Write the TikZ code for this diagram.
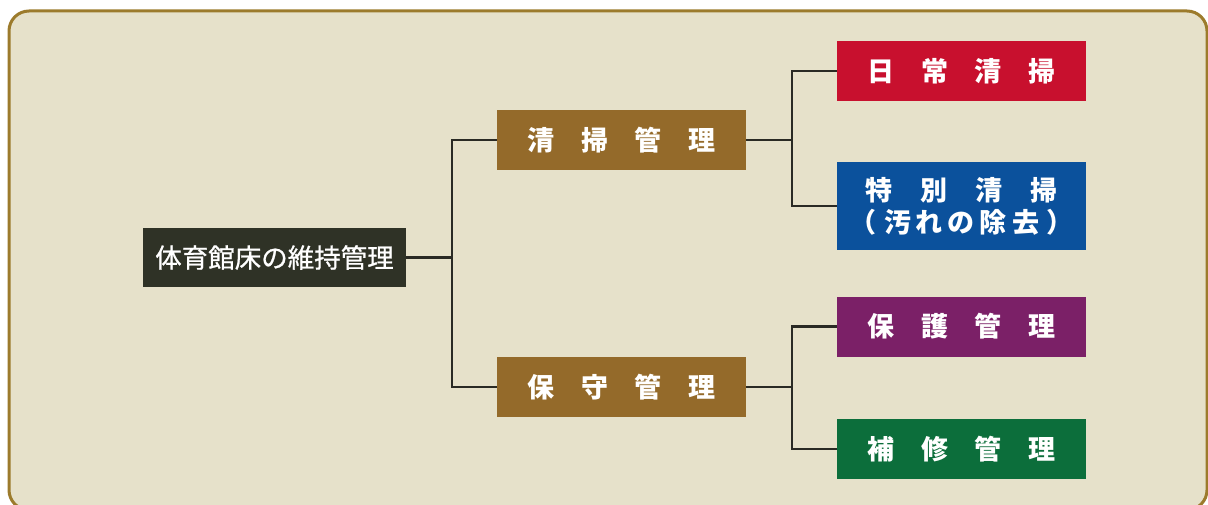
\documentclass[tikz,border=0pt]{standalone}
\usepackage{fontspec}
\newfontfamily\cjk{Noto Sans CJK JP}
\newfontfamily\cjkm{Noto Sans CJK JP}[FakeBold=0.8]
\definecolor{bgfill}{HTML}{E6E1CA}
\definecolor{frame}{HTML}{9C7B2C}
\definecolor{rootc}{HTML}{2F3226}
\definecolor{brownc}{HTML}{946A2A}
\definecolor{redc}{HTML}{C8102E}
\definecolor{bluec}{HTML}{0B519C}
\definecolor{purplec}{HTML}{7B2067}
\definecolor{greenc}{HTML}{0C6E3B}
\definecolor{linec}{HTML}{2A2A24}
\tikzset{
  box/.style={minimum width=249pt, minimum height=60pt, inner sep=0pt, text=white, font=\cjk\bfseries\fontsize{27}{31}\selectfont, align=center},
  conn/.style={draw=linec, line width=2.4pt}
}
\newcommand{\gap}{\hspace{26.5pt}}
\newcommand{\pgap}{\hspace{8pt}}
\newcommand{\igap}{\hspace{5pt}}
\begin{document}
\begin{tikzpicture}[x=1pt,y=-1pt]
\useasboundingbox (0,0) rectangle (1208,505);
\fill[white] (0,0) rectangle (1208,505);
\begin{scope}
\clip (0,0) rectangle (1208,505);
\draw[draw=frame, fill=bgfill, line width=3pt, rounded corners=20pt] (9,11) rectangle (1207,510);
\end{scope}
\node[box, fill=rootc, minimum width=263pt, minimum height=59pt, font=\cjkm\fontsize{26.5}{30}\selectfont] (root) at (274.5,257.5) {体育館床の維持管理};
\node[box, fill=brownc] (seiso) at (621.5,140) {清\gap 掃\gap 管\gap 理};
\node[box, fill=brownc] (hoshu) at (621.5,387) {保\gap 守\gap 管\gap 理};
\node[box, fill=redc] (nichijo) at (961.5,71) {日\gap 常\gap 清\gap 掃};
\node[box, fill=bluec, minimum height=88pt, font=\cjk\bfseries\fontsize{27}{32}\selectfont] (tokubetsu) at (961.5,206) {特\hspace{28pt}別\hspace{28pt}清\hspace{28pt}掃\\（\pgap 汚\igap れ\igap の\igap 除\igap 去\pgap ）};
\node[box, fill=purplec] (hogo) at (961.5,326.5) {保\gap 護\gap 管\gap 理};
\node[box, fill=greenc] (hoshuu) at (961.5,449) {補\gap 修\gap 管\gap 理};
\coordinate (j1) at (452,257.5);
\coordinate (j2) at (792,140);
\coordinate (j3) at (792,387);
\draw[conn] (root.east) -- (j1);
\draw[conn] (seiso.west) -| (j1) |- (hoshu.west);
\draw[conn] (seiso.east) -- (j2);
\draw[conn] (nichijo.west) -| (j2) |- (tokubetsu.west);
\draw[conn] (hoshu.east) -- (j3);
\draw[conn] (hogo.west) -| (j3) |- (hoshuu.west);
\end{tikzpicture}
\end{document}
